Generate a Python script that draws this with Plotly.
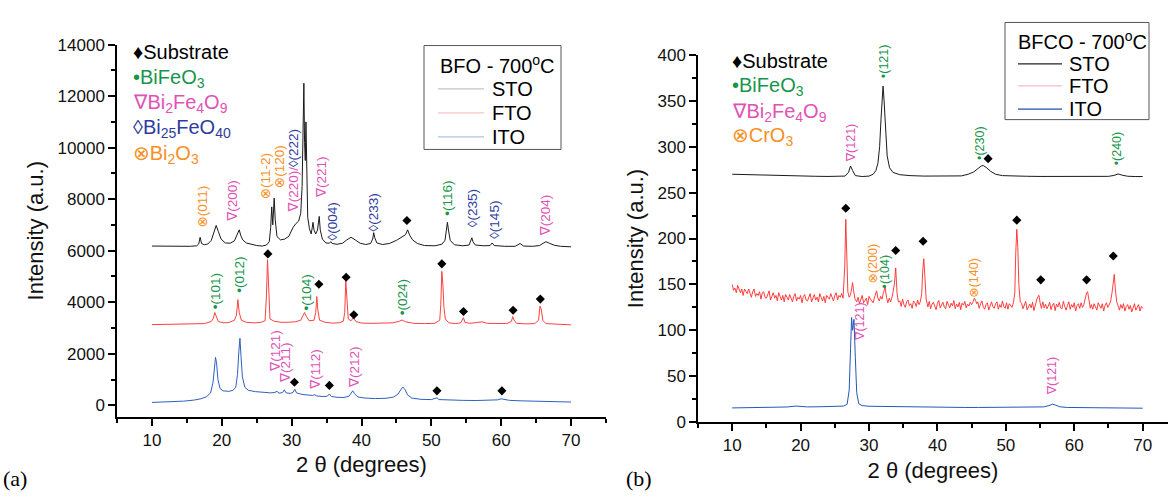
import plotly.graph_objects as go

W, H = 1168, 499
FONT = "Liberation Sans, Arial, DejaVu Sans, sans-serif"

# ---------------- colours ----------------
C_GREEN = "#17954b"
C_MAGENTA = "#e052b6"
C_BLUE = "#2d3c9e"
C_ORANGE = "#f7901e"

# ================= panel (a): BFO - 700 C =================
# (2theta, intensity)
a_sto = [(10.0,6180),(11.5,6170),(13.0,6180),(14.5,6175),(15.5,6170),(16.4,6190),(16.7,6260),(16.9,6520),(17.1,6280),
         (17.5,6230),(18.0,6260),(18.5,6400),(18.9,6700),(19.2,6980),(19.5,6750),(19.9,6450),(20.5,6300),(21.2,6290),
         (21.8,6380),(22.1,6560),(22.3,6650),(22.5,6810),(22.7,6600),(23.0,6420),(23.5,6300),(24.2,6240),(25.0,6200),
         (25.8,6180),(26.4,6220),(26.8,6350),(27.0,6900),(27.15,7700),(27.3,7000),(27.5,8040),(27.65,7200),(27.9,6550),
         (28.4,6420),(29.0,6450),(29.6,6560),(30.2,6900),(30.6,7050),(31.0,7150),(31.3,7450),(31.5,8500),(31.65,10500),
         (31.75,12500),(31.85,10200),(31.95,9500),(32.05,11000),(32.15,8500),(32.3,7300),(32.55,6850),(32.8,6650),
         (32.95,6900),(33.05,7100),(33.2,6800),(33.45,6650),(33.7,6800),(33.85,7100),(33.95,7330),(34.1,6800),(34.4,6450),
         (34.9,6300),(35.4,6290),(35.6,6350),(35.8,6280),(36.5,6250),(37.3,6290),(37.9,6420),(38.5,6520),(39.1,6420),
         (39.8,6290),(40.6,6240),(41.3,6280),(41.6,6450),(41.75,6700),(41.9,6500),(42.2,6300),(43.0,6240),(44.0,6280),
         (45.0,6400),(45.8,6540),(46.3,6620),(46.6,6810),(46.9,6600),(47.3,6420),(48.0,6280),(49.0,6200),(50.5,6190),
         (51.5,6250),(51.95,6400),(52.15,6800),(52.3,7100),(52.45,6800),(52.7,6400),(53.3,6230),(54.5,6190),(55.4,6220),
         (55.65,6380),(55.8,6500),(55.95,6350),(56.3,6220),(57.5,6190),(58.4,6200),(58.7,6300),(59.0,6200),(60.5,6170),
         (62.0,6170),(62.7,6280),(63.2,6180),(64.5,6170),(65.5,6200),(66.0,6290),(66.4,6350),(66.9,6290),(67.6,6210),
         (68.5,6170),(69.3,6160),(70.0,6150)]

a_fto = [(10.0,3130),(12.0,3140),(14.0,3130),(16.0,3150),(17.5,3170),(18.5,3250),(18.8,3380),(19.0,3600),(19.2,3420),
         (19.5,3250),(20.2,3200),(21.0,3210),(21.8,3300),(22.1,3500),(22.3,4100),(22.5,3600),(22.8,3300),(23.5,3220),
         (24.5,3200),(25.5,3210),(26.2,3280),(26.4,4300),(26.55,5650),(26.7,4300),(26.9,3350),(27.5,3260),(28.5,3220),
         (29.5,3220),(30.5,3240),(31.3,3300),(31.6,3450),(31.85,3600),(32.1,3450),(32.5,3280),(33.2,3300),(33.45,3600),
         (33.6,4220),(33.75,3700),(34.0,3300),(34.8,3220),(35.8,3190),(36.8,3200),(37.4,3260),(37.6,3600),(37.75,4850),
         (37.9,4000),(38.1,3350),(38.5,3280),(38.85,3400),(39.2,3250),(40.0,3190),(41.5,3180),(43.0,3180),(44.5,3200),
         (45.4,3260),(45.8,3310),(46.3,3240),(47.5,3180),(49.0,3170),(50.5,3180),(51.2,3300),(51.35,3900),(51.5,5200),
         (51.65,4700),(51.8,3800),(52.0,3350),(52.5,3200),(53.5,3170),(54.2,3200),(54.45,3350),(54.6,3400),(54.8,3220),
         (55.5,3180),(56.5,3210),(57.2,3240),(58.0,3180),(59.5,3160),(60.8,3170),(61.45,3250),(61.65,3440),(61.85,3300),
         (62.2,3180),(63.5,3160),(64.8,3170),(65.35,3300),(65.55,3850),(65.75,3700),(65.95,3300),(66.4,3170),(67.5,3150),
         (69.0,3140),(70.0,3120)]

a_ito = [(10.0,110),(11.5,120),(13.0,140),(14.5,160),(16.0,200),(17.0,250),(17.8,330),(18.4,480),(18.75,900),
         (18.95,1600),(19.1,1860),(19.25,1650),(19.45,1000),(19.75,650),(20.2,560),(21.0,540),(21.6,580),(22.0,700),
         (22.25,1200),(22.45,2100),(22.6,2600),(22.75,1900),(22.95,1100),(23.3,700),(23.8,580),(24.8,530),(26.0,500),
         (27.0,480),(27.6,500),(27.9,540),(28.2,470),(28.7,490),(28.95,600),(29.2,480),(29.8,460),(30.2,500),(30.45,620),
         (30.7,480),(31.5,420),(32.5,390),(33.0,380),(33.3,410),(33.6,360),(34.5,340),(35.1,350),(35.4,440),(35.7,340),
         (36.5,310),(37.5,300),(38.2,350),(38.5,480),(38.75,560),(39.0,450),(39.5,320),(40.5,280),(42.0,260),(43.5,270),
         (44.6,320),(45.2,430),(45.6,620),(45.9,710),(46.2,620),(46.6,400),(47.2,280),(48.5,230),(50.0,220),(50.6,270),
         (50.8,290),(51.1,220),(52.5,200),(54.5,190),(56.5,185),(58.5,185),(59.5,210),(60.0,250),(60.5,230),(61.2,190),
         (63.0,170),(65.0,160),(67.0,150),(69.0,135),(70.0,125)]

a_sub_theta = [46.5, 26.6, 33.9, 37.8, 38.9, 51.5, 54.6, 61.7, 65.6, 30.4, 35.4, 50.8, 60.1]
a_sub_int = [7170, 5875, 4695, 4970, 3515, 5490, 3640, 3690, 4120, 895, 770, 560, 560]

MIX = '<span style="color:%s">∇(220)/</span><span style="color:%s">◊(222)</span>' % (C_MAGENTA, C_BLUE)
a_labels = [  # text, colour, 2theta, intensity at label base
    ("⊗(011)", C_ORANGE, 17.2, 6870),
    ("∇(200)", C_MAGENTA, 21.5, 7090),
    ("⊗(11-2)", C_ORANGE, 26.3, 7950),
    ("⊗(120)", C_ORANGE, 28.3, 8400),
    (MIX, C_MAGENTA, 30.2, 7430),
    ("∇(221)", C_MAGENTA, 34.3, 7990),
    ("◊(004)", C_BLUE, 35.9, 6350),
    ("◊(233)", C_BLUE, 41.7, 6720),
    ("•(116)", C_GREEN, 52.4, 7300),
    ("◊(235)", C_BLUE, 55.8, 6870),
    ("◊(145)", C_BLUE, 59.1, 6420),
    ("∇(204)", C_MAGENTA, 66.3, 6530),
    ("•(101)", C_GREEN, 19.2, 3700),
    ("•(012)", C_GREEN, 22.6, 4330),
    ("•(104)", C_GREEN, 32.1, 3650),
    ("•(024)", C_GREEN, 45.8, 3460),
    ("∇(121)", C_MAGENTA, 27.7, 1240),
    ("∇(211)", C_MAGENTA, 29.2, 807),
    ("∇(112)", C_MAGENTA, 33.4, 560),
    ("∇(212)", C_MAGENTA, 38.9, 620),
]

# ================= panel (b): BFCO - 700 C =================
b_sto = [(10.0,270),(12.0,269.5),(14.0,269),(16.0,268.5),(18.0,268.3),(20.0,268),(22.0,267.8),(24.0,267.6),(25.5,267.5),
         (26.5,268),(27.0,272),(27.3,279),(27.6,274),(28.0,268.5),(29.0,267.5),(30.0,268),(30.6,270),(31.0,274),(31.3,282),
         (31.55,300),(31.75,330),(31.9,355),(32.05,366),(32.2,350),(32.4,318),(32.65,290),(33.0,277),(33.5,272),(34.5,269.5),
         (36.0,268.5),(38.0,268),(40.0,267.8),(42.0,267.8),(43.5,268.2),(44.5,270),(45.3,272.5),(45.9,276),(46.4,279),
         (46.7,279.5),(47.2,277),(47.8,273),(48.5,270),(49.5,268.5),(51.0,268),(53.0,267.8),(55.0,267.6),(57.0,267.6),
         (59.0,267.5),(61.0,267.5),(63.0,267.5),(65.0,267.7),(65.8,268.7),(66.4,270.3),(67.0,269),(67.8,267.8),(69.0,267.5),
         (70.0,267.5)]

b_fto = [(10.0,150),(10.2,143.6),(10.4,146),(10.6,141),(10.8,149),(11.0,145),(11.2,141),(11.4,145),(11.6,138),(11.8,145),
         (12.0,142),(12.2,140),(12.4,145),(12.6,140),(12.8,136),(13.0,142),(13.2,145),(13.4,137),(13.6,140),(13.8,138),
         (14.0,142),(14.2,134),(14.4,141),(14.6,142),(14.8,136),(15.0,135),(15.2,139),(15.4,143),(15.6,133),(15.8,137),
         (16.0,141),(16.2,135),(16.4,138),(16.6,132),(16.8,141),(17.0,137),(17.2,133),(17.4,138),(17.6,131),(17.8,139),
         (18.0,135.5),(18.2,133),(18.4,139),(18.6,134),(18.8,131),(19.0,137),(19.2,140),(19.4,132),(19.6,136),(19.8,134),
         (20.0,138),(20.2,130),(20.4,137),(20.6,139),(20.8,133),(21.0,132),(21.2,136),(21.4,140),(21.6,131),(21.8,135),
         (22.0,139),(22.2,133),(22.4,136),(22.6,131),(22.8,140),(23.0,136),(23.2,132),(23.4,137),(23.6,130),(23.8,138),
         (24.0,135.5),(24.2,134),(24.4,140),(24.6,135),(24.8,132),(25.0,138),(25.2,141),(25.4,133),(25.6,138),(25.8,136),
         (26.0,140),(26.2,135),(26.45,170),(26.6,221),(26.75,175),(26.9,142),(27.1,136),(27.3,139),(27.45,145),(27.6,152),
         (27.75,143),(27.95,134),(28.2,131),(28.4,136),(28.6,129),(28.8,134),(29.0,138),(29.2,130),(29.4,133),(29.6,135),
         (29.8,128),(30.0,137),(30.2,134),(30.4,132),(30.6,130),(30.8,136),(31.0,140),(31.1,143),(31.3,135),(31.5,132),
         (31.7,137),(31.9,134),(32.1,141),(32.35,147),(32.55,136),(32.75,130),(32.95,135),(33.15,131),(33.4,137),(33.7,150),
         (33.9,168),(34.1,140),(34.3,131),(34.5,132),(34.7,126),(34.9,134),(35.1,128),(35.3,125),(35.5,131),(35.7,133),
         (35.9,127),(36.1,129),(36.3,124),(36.5,132),(36.7,130),(36.9,126),(37.1,133),(37.3,128),(37.5,131),(37.7,140),
         (37.85,165),(38.0,178),(38.15,160),(38.35,134),(38.6,125.5),(38.8,131.5),(39.0,123.5),(39.2,128.5),(39.4,130.5),
         (39.6,126.5),(39.8,122.5),(40.0,129.5),(40.2,132.5),(40.4,124.5),(40.6,127.5),(40.8,130.5),(41.0,125.5),
         (41.2,123.5),(41.4,131.5),(41.6,128.5),(41.8,124.5),(42.0,129.5),(42.2,126.5),(42.4,132.5),(42.6,123.5),
         (42.8,128.5),(43.0,125.5),(43.2,130.5),(43.4,122.5),(43.6,129.5),(43.8,127.5),(44.0,131.5),(44.2,124.5),
         (44.4,128.5),(44.6,126.5),(44.8,130.5),(45.0,128),(45.2,131),(45.4,135),(45.55,133),(45.75,129),(45.9,131),
         (46.1,124),(46.3,129),(46.5,132),(46.7,125),(46.9,123),(47.1,128),(47.3,130),(47.5,122),(47.7,127),(47.9,131),
         (48.1,126),(48.3,124),(48.5,129),(48.7,131),(48.9,123),(49.1,128),(49.3,125),(49.5,132),(49.7,126),(49.9,124),
         (50.1,130),(50.3,123),(50.5,129),(50.7,127),(50.9,125),(51.1,130),(51.3,140),(51.45,185),(51.6,210),(51.75,190),
         (51.9,150),(52.1,131),(52.3,129.5),(52.5,123.5),(52.7,127.5),(52.9,131.5),(53.1,122.5),(53.3,126.5),(53.5,128.5),
         (53.7,124.5),(53.9,130.5),(54.1,121.5),(54.3,128),(54.5,133),(54.7,137),(54.85,138),(55.0,130),(55.2,124),
         (55.4,131),(55.6,124.5),(55.8,128.5),(56.0,123.5),(56.2,126.5),(56.4,130.5),(56.6,122.5),(56.8,127.5),(57.0,129.5),
         (57.2,121.5),(57.4,128.5),(57.6,125.5),(57.8,130.5),(58.0,124.5),(58.2,123.5),(58.4,131.5),(58.6,126),(58.8,122),
         (59.0,127),(59.2,131),(59.4,123),(59.6,128),(59.8,125),(60.0,130),(60.2,121),(60.4,127),(60.6,129),(60.8,124),
         (61.0,130),(61.2,125),(61.4,128),(61.6,134),(61.8,141),(61.95,142),(62.15,132),(62.35,124),(62.5,128),(62.7,123),
         (62.9,129),(63.1,125),(63.3,122),(63.5,130),(63.7,126),(63.9,124),(64.1,129),(64.3,121),(64.5,127),(64.7,130),
         (64.9,125),(65.1,128),(65.3,131),(65.5,140),(65.7,155),(65.85,161),(66.0,145),(66.2,131),(66.4,127),(66.6,122),
         (66.8,128),(67.0,124),(67.2,129),(67.4,121),(67.6,126),(67.8,128),(68.0,123),(68.2,127),(68.4,120),(68.6,126),
         (68.8,129),(69.0,122),(69.2,125),(69.4,128),(69.6,121),(69.8,126),(70.0,124)]

b_ito = [(10.0,15.5),(12.0,15.8),(14.0,16),(16.0,16.2),(18.0,16.5),(19.3,17.5),(19.8,17.0),(21.0,16.6),(23.0,16.8),
         (25.0,17),(26.3,17.5),(26.8,19.5),(27.1,35),(27.3,80),(27.45,114),(27.6,100),(27.8,112),(28.0,70),(28.2,32),
         (28.5,20),(29.0,18),(30.0,17.3),(32.0,17),(34.0,16.8),(35.5,17.2),(36.5,16.6),(38.0,16.5),(40.0,16.3),(42.0,16.2),
         (44.0,16),(46.0,16),(48.0,16.1),(50.0,16),(52.0,16),(54.0,16),(55.5,16.6),(56.3,18),(56.8,19.5),(57.3,18.5),
         (57.9,16.7),(59.0,16),(61.0,15.8),(63.0,15.6),(65.0,15.5),(67.0,15.4),(69.0,15.3),(70.0,15.2)]

b_sub_theta = [47.4, 26.6, 33.9, 37.9, 51.6, 55.1, 61.8, 65.7]
b_sub_int = [287, 233, 187, 197, 220, 155, 155, 181]

b_labels = [
    ("∇(121)", C_MAGENTA, 27.3, 282),
    ("•(121)", C_GREEN, 32.1, 374),
    ("•(230)", C_GREEN, 46.3, 284),
    ("•(240)", C_GREEN, 66.3, 279),
    ("⊗(200)", C_ORANGE, 30.6, 150),
    ("•(104)", C_GREEN, 32.4, 145),
    ("⊗(140)", C_ORANGE, 45.3, 134),
    ("∇(121)", C_MAGENTA, 28.7, 87),
    ("∇(121)", C_MAGENTA, 56.8, 28),
]

a_key = [("♦Substrate", "black"), ("•BiFeO<sub>3</sub>", C_GREEN),
         ("∇Bi<sub>2</sub>Fe<sub>4</sub>O<sub>9</sub>", C_MAGENTA),
         ("◊Bi<sub>25</sub>FeO<sub>40</sub>", C_BLUE), ("⊗Bi<sub>2</sub>O<sub>3</sub>", C_ORANGE)]
b_key = [("♦Substrate", "black"), ("•BiFeO<sub>3</sub>", C_GREEN),
         ("∇Bi<sub>2</sub>Fe<sub>4</sub>O<sub>9</sub>", C_MAGENTA), ("⊗CrO<sub>3</sub>", C_ORANGE)]

substrates = ["STO", "FTO", "ITO"]
a_line_cols = ["#1a1a1a", "#ff4040", "#2f5fc0"]
a_key_cols = ["#c4c4c4", "#f8c4c8", "#b4c2e6"]
b_line_cols = ["#1a1a1a", "#ff2a2a", "#2458b8"]
b_key_cols = ["#222222", "#f7bcc6", "#1f4fb0"]

# ---------------- figure ----------------
def unzip(pairs):
    return [p[0] for p in pairs], [p[1] for p in pairs]

fig = go.Figure()
for pairs, col in zip([a_sto, a_fto, a_ito], a_line_cols):
    xs, ys = unzip(pairs)
    fig.add_trace(go.Scatter(x=xs, y=ys, mode="lines", line=dict(color=col, width=1),
                             xaxis="x", yaxis="y", showlegend=False, hoverinfo="skip"))
for pairs, col, wd in zip([b_sto, b_fto, b_ito], b_line_cols, [1, 0.9, 1]):
    xs, ys = unzip(pairs)
    fig.add_trace(go.Scatter(x=xs, y=ys, mode="lines", line=dict(color=col, width=wd),
                             xaxis="x2", yaxis="y2", showlegend=False, hoverinfo="skip"))
fig.add_trace(go.Scatter(x=a_sub_theta, y=a_sub_int, mode="markers", cliponaxis=False,
                         marker=dict(symbol="diamond", size=7, color="black"),
                         xaxis="x", yaxis="y", showlegend=False, hoverinfo="skip"))
fig.add_trace(go.Scatter(x=b_sub_theta, y=b_sub_int, mode="markers", cliponaxis=False,
                         marker=dict(symbol="diamond", size=7, color="black"),
                         xaxis="x2", yaxis="y2", showlegend=False, hoverinfo="skip"))

annotations = []
for text, col, th, base in a_labels:
    annotations.append(dict(x=th, y=base, xref="x", yref="y", text=text, showarrow=False, textangle=-90,
                            xanchor="center", yanchor="bottom", borderpad=0,
                            font=dict(family=FONT, size=13.5, color=col)))
for text, col, th, base in b_labels:
    annotations.append(dict(x=th, y=base, xref="x2", yref="y2", text=text, showarrow=False, textangle=-90,
                            xanchor="center", yanchor="bottom", borderpad=0,
                            font=dict(family=FONT, size=12.5, color=col)))

def px(x):
    return x / W

def py(y):
    return 1 - y / H

for (text, col), yy in zip(a_key, [45, 72, 98, 124, 151]):
    annotations.append(dict(x=px(131), y=py(yy), xref="paper", yref="paper", text=text, showarrow=False,
                            xanchor="left", yanchor="middle", font=dict(family=FONT, size=20, color=col)))
for (text, col), yy in zip(b_key, [54, 81, 108, 133]):
    annotations.append(dict(x=px(730), y=py(yy), xref="paper", yref="paper", text=text, showarrow=False,
                            xanchor="left", yanchor="middle", font=dict(family=FONT, size=20, color=col)))

shapes = []
# legend boxes
for (x0, x1, y0, y1, title, tx, ty, rows, lx0, lx1, txx, cols) in [
        (424, 561, 38, 146, "BFO - 700<sup>o</sup>C", 438, 58, [83, 108, 133], 438, 484, 490, a_key_cols),
        (1005, 1149, 14, 115, "BFCO - 700<sup>o</sup>C", 1016, 33, [57, 80, 104], 1018, 1062, 1067, b_key_cols)]:
    shapes.append(dict(type="rect", xref="paper", yref="paper", x0=px(x0), x1=px(x1), y0=py(y1), y1=py(y0),
                       line=dict(color="#555555", width=1), fillcolor="white", layer="above"))
    annotations.append(dict(x=px(tx), y=py(ty), xref="paper", yref="paper", text=title, showarrow=False,
                            xanchor="left", yanchor="middle", font=dict(family=FONT, size=20, color="black")))
    for name, ry, c in zip(substrates, rows, cols):
        shapes.append(dict(type="line", xref="paper", yref="paper", x0=px(lx0), x1=px(lx1), y0=py(ry), y1=py(ry),
                           line=dict(color=c, width=1.2)))
        annotations.append(dict(x=px(txx), y=py(ry), xref="paper", yref="paper", text=name, showarrow=False,
                                xanchor="left", yanchor="middle", font=dict(family=FONT, size=20, color="black")))

for lab, xx in [("(a)", 15), ("(b)", 639)]:
    annotations.append(dict(x=px(xx), y=py(488), xref="paper", yref="paper", text=lab, showarrow=False,
                            xanchor="center", yanchor="middle",
                            font=dict(family="Liberation Serif, DejaVu Serif, serif", size=22, color="black")))

axis_common = dict(showline=True, linecolor="black", linewidth=1.5, ticks="outside", tickcolor="black",
                   tickwidth=1.5, ticklen=7, showgrid=False, zeroline=False, tickformat="d",
                   tickfont=dict(family=FONT, size=17, color="#111111"))
title_font = dict(family=FONT, size=22, color="#111111")

fig.update_layout(
    width=W, height=H, margin=dict(l=0, r=0, t=0, b=0),
    paper_bgcolor="white", plot_bgcolor="white", showlegend=False,
    xaxis=dict(domain=[px(117), px(606)], range=[5, 75], anchor="y", tick0=0, dtick=10,
               minor=dict(ticks="outside", ticklen=4, tickwidth=1.5, tickcolor="black", tick0=0, dtick=5),
               title=dict(text="2 θ (degrees)", font=title_font, standoff=8), **axis_common),
    yaxis=dict(domain=[py(424), py(37)], range=[-450, 14000], anchor="x", tick0=0, dtick=2000,
               minor=dict(ticks="outside", ticklen=4, tickwidth=1.5, tickcolor="black", tick0=0, dtick=1000),
               title=dict(text="Intensity (a.u.)", font=title_font, standoff=8), **axis_common),
    xaxis2=dict(domain=[px(698), 1.0], range=[5, 73.7], anchor="y2", tick0=0, dtick=10,
                minor=dict(ticks="outside", ticklen=4, tickwidth=1.5, tickcolor="black", tick0=0, dtick=5),
                title=dict(text="2 θ (degrees)", font=title_font, standoff=8), **axis_common),
    yaxis2=dict(domain=[py(429.5), py(47.7)], range=[0, 400], anchor="x2", tick0=0, dtick=50,
                minor=dict(ticks="outside", ticklen=4, tickwidth=1.5, tickcolor="black", tick0=0, dtick=25),
                title=dict(text="Intensity (a.u.)", font=title_font, standoff=8), **axis_common),
    annotations=annotations, shapes=shapes,
)

fig.write_html("out.html")
